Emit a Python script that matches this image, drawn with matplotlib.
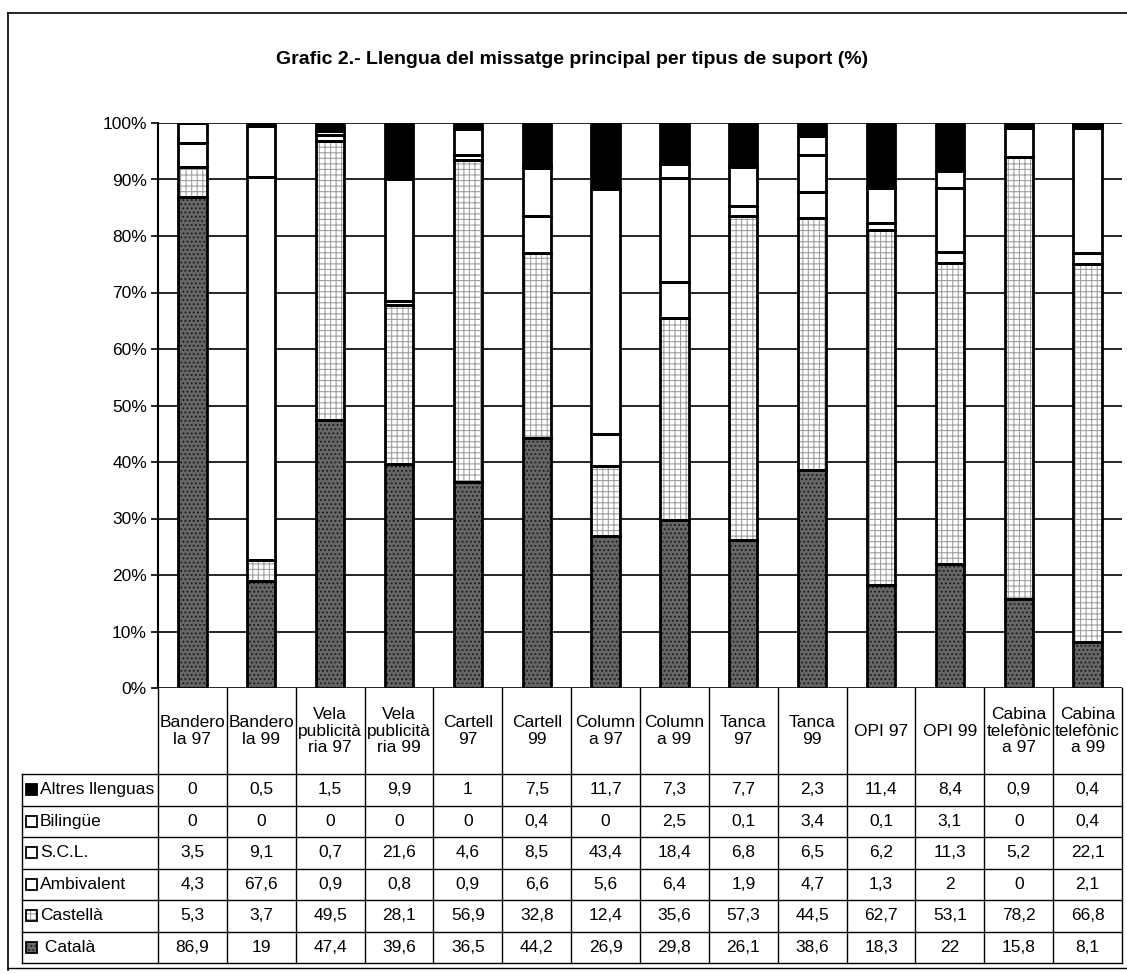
import matplotlib
matplotlib.use('Agg')
import matplotlib.pyplot as plt
import numpy as np
from matplotlib.patches import Rectangle
from matplotlib.lines import Line2D

# ---------------- data ----------------
title = "Grafic 2.- Llengua del missatge principal per tipus de suport (%)"
categories = ["Bandero\nla 97", "Bandero\nla 99", "Vela\npublicità\nria 97", "Vela\npublicità\nria 99",
              "Cartell\n97", "Cartell\n99", "Column\na 97", "Column\na 99", "Tanca\n97", "Tanca\n99",
              "OPI 97", "OPI 99", "Cabina\ntelefònic\na 97", "Cabina\ntelefònic\na 99"]
catala     = [86.9, 19, 47.4, 39.6, 36.5, 44.2, 26.9, 29.8, 26.1, 38.6, 18.3, 22, 15.8, 8.1]
castella   = [5.3, 3.7, 49.5, 28.1, 56.9, 32.8, 12.4, 35.6, 57.3, 44.5, 62.7, 53.1, 78.2, 66.8]
ambivalent = [4.3, 67.6, 0.9, 0.8, 0.9, 6.6, 5.6, 6.4, 1.9, 4.7, 1.3, 2, 0, 2.1]
scl        = [3.5, 9.1, 0.7, 21.6, 4.6, 8.5, 43.4, 18.4, 6.8, 6.5, 6.2, 11.3, 5.2, 22.1]
bilingue   = [0, 0, 0, 0, 0, 0.4, 0, 2.5, 0.1, 3.4, 0.1, 3.1, 0, 0.4]
altres     = [0, 0.5, 1.5, 9.9, 1, 7.5, 11.7, 7.3, 7.7, 2.3, 11.4, 8.4, 0.9, 0.4]
series_names = ["Català", "Castellà", "Ambivalent", "S.C.L.", "Bilingüe", "Altres llenguas"]
yticks = list(range(0, 101, 10))

# styles (bottom -> top)
styles = {
    "Català":          dict(face="#666666", hatch="....", hcol="#1a1a1a"),
    "Castellà":        dict(face="white",   hatch="+++",  hcol="#a0a0a0"),
    "Ambivalent":      dict(face="white",   hatch=None,   hcol="white"),
    "S.C.L.":          dict(face="white",   hatch=None,   hcol="white"),
    "Bilingüe":        dict(face="white",   hatch=None,   hcol="white"),
    "Altres llenguas": dict(face="black",   hatch=None,   hcol="black"),
}
values = {"Català": catala, "Castellà": castella, "Ambivalent": ambivalent,
          "S.C.L.": scl, "Bilingüe": bilingue, "Altres llenguas": altres}

FONT = ['Liberation Sans Narrow', 'Liberation Sans', 'DejaVu Sans']
plt.rcParams['font.family'] = FONT
plt.rcParams['hatch.linewidth'] = 0.8

W, H = 1127, 974
fig = plt.figure(figsize=(W / 100, H / 100), dpi=100)
def fx(px): return px / W
def fy(py): return 1 - py / H

L, R, T, B = 158, 1122, 123, 688
ax = fig.add_axes([fx(L), fy(B), fx(R) - fx(L), fy(T) - fy(B)])
n = len(categories)
x = np.arange(n)
ax.set_xlim(-0.5, n - 0.5)
ax.set_ylim(0, 100)

data = np.array([values[s] for s in series_names], dtype=float)
totals = data.sum(axis=0)
pct = data / totals * 100
bottom = np.zeros(n)
bw = 0.41
for name, v in zip(series_names, pct):
    st = styles[name]
    ax.bar(x, v, bw, bottom=bottom, color=st["face"], hatch=st["hatch"],
           edgecolor=st["hcol"], linewidth=0, zorder=2)
    ax.bar(x, v, bw, bottom=bottom, fill=False, edgecolor="black", linewidth=2.0, zorder=3)
    bottom += v

ax.set_yticks(yticks)
ax.set_yticklabels([f"{t}%" for t in yticks], fontsize=12.5)
ax.set_xticks([])
ax.yaxis.grid(True, color="black", linewidth=1.2)
ax.set_axisbelow(True)
for s in ["top", "right", "bottom"]:
    ax.spines[s].set_visible(False)
ax.spines["left"].set_linewidth(1.5)
ax.tick_params(axis="y", length=5, width=1.2, pad=3, direction="out")

# ---------------- table ----------------
TL, TB = 22, 963
colw = (R - L) / n
labw = (L - TL) / colw
tab = fig.add_axes([fx(TL), fy(TB), fx(R) - fx(TL), fy(B) - fy(TB)])
tot_h = TB - B          # 275
row_h = (TB - 774) / 6  # data rows
data_top = TB - 774
tab.set_xlim(-0.5 - labw, n - 0.5)
tab.set_ylim(0, tot_h)
tab.axis("off")

lw = 1.0
for k in range(n + 1):
    tab.plot([k - 0.5, k - 0.5], [0, tot_h], color="black", lw=lw, clip_on=False)
tab.plot([-0.5 - labw] * 2, [0, data_top], color="black", lw=lw, clip_on=False)
for r in range(7):
    yy = data_top - r * row_h
    tab.plot([-0.5 - labw, n - 0.5], [yy, yy], color="black", lw=lw, clip_on=False)

for i, c in enumerate(categories):
    tab.text(i, (data_top + tot_h) / 2, c, ha="center", va="center", fontsize=12.5,
             linespacing=1.15)

row_order = series_names[::-1]
def fmt(v):
    return f"{v:g}".replace(".", ",")
for r, name in enumerate(row_order):
    yc = data_top - (r + 0.5) * row_h
    st = styles[name]
    ks = 11
    kx = -0.5 - labw + 4 / colw
    tab.add_patch(Rectangle((kx, yc - ks / 2), ks / colw, ks, facecolor=st["face"],
                            hatch=st["hatch"], edgecolor=st["hcol"], linewidth=0))
    tab.add_patch(Rectangle((kx, yc - ks / 2), ks / colw, ks, fill=False,
                            edgecolor="black", linewidth=1.3))
    lab = (" " + name) if name == "Català" else name
    tab.text(kx + 14 / colw, yc, lab, ha="left", va="center", fontsize=12.5)
    for i, v in enumerate(values[name]):
        tab.text(i, yc, fmt(v), ha="center", va="center", fontsize=12.5)

fig.text(fx(572), fy(60), title, ha="center", va="center", fontsize=14, fontweight="bold")

fig.add_artist(Line2D([fx(8), fx(8)], [fy(13), fy(970)], color="black", lw=1.2))
fig.add_artist(Line2D([fx(8), fx(1127)], [fy(13), fy(13)], color="black", lw=1.2))
fig.add_artist(Line2D([fx(8), fx(1127)], [fy(968), fy(968)], color="black", lw=1.0))

fig.savefig("out.png", dpi=100)
